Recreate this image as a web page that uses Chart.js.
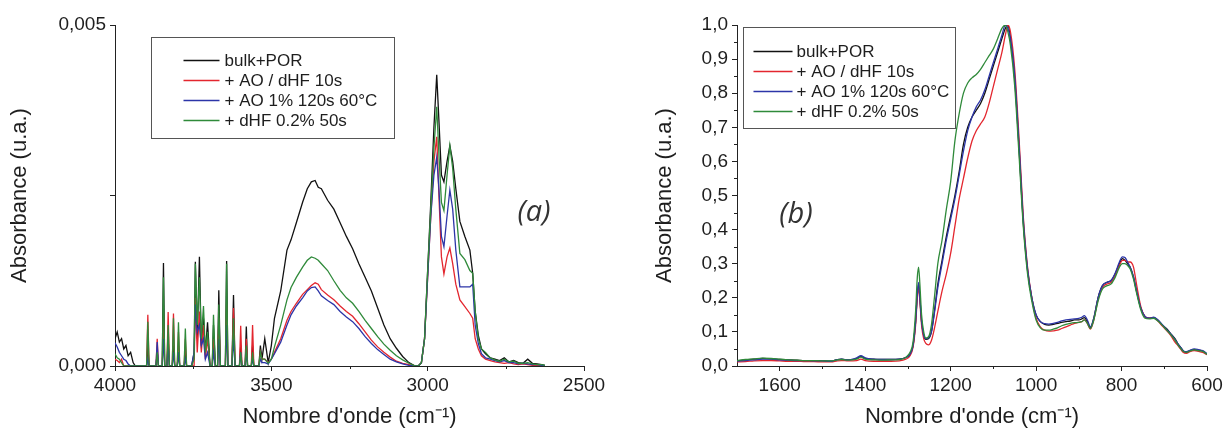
<!DOCTYPE html>
<html>
<head>
<meta charset="utf-8">
<script src="https://cdn.jsdelivr.net/npm/chart.js@4.4.1/dist/chart.umd.min.js"></script>
<style>
html, body { margin: 0; padding: 0; background: #fff; }
#wrap { position: relative; width: 1227px; height: 435px; overflow: hidden; background: #fff; }
.panel { position: absolute; top: 0; }
</style>
</head>
<body>
<div id="wrap">
  <div class="panel" style="left:0px"><canvas id="chartA" width="620" height="435" style="width:620px;height:435px"></canvas></div>
  <div class="panel" style="left:620px"><canvas id="chartB" width="607" height="435" style="width:607px;height:435px"></canvas></div>
</div>
<script>
// ---------------- DATA ----------------
const seriesLabels = ['bulk+POR', '+ AO / dHF 10s', '+ AO 1% 120s 60°C', '+ dHF 0.2% 50s'];

// Panel (a): wavenumber (cm-1)
const wavenumberA = [
  4000, 3993, 3986, 3979, 3972, 3965, 3958, 3950, 3942, 3935, 3925,
  3910, 3899, 3895, 3891, 3869, 3865, 3861, 3849, 3845, 3841, 3834, 3830, 3826, 3817, 3813, 3809,
  3801, 3797, 3793, 3779, 3775, 3771, 3755, 3747, 3743, 3737, 3730, 3724, 3717, 3711, 3704,
  3696, 3689, 3685, 3679, 3672, 3668, 3663, 3650, 3647, 3643, 3639, 3626, 3621, 3616,
  3602, 3598, 3594, 3584, 3580, 3576, 3564, 3560, 3556, 3540, 3535, 3530,
  3521, 3510, 3500, 3490, 3470, 3450, 3437, 3420, 3400, 3385, 3372, 3360, 3350, 3340, 3320,
  3300, 3280, 3260, 3240, 3220, 3200, 3180, 3160, 3140, 3120, 3100, 3080, 3060, 3040,
  3030, 3020, 3010, 3000, 2990, 2980, 2971, 2964, 2956, 2948, 2938, 2929, 2920, 2910, 2897,
  2881, 2865, 2856, 2848, 2838, 2828, 2815, 2800,
  2785, 2770, 2755, 2740, 2725, 2710, 2695, 2680, 2665, 2650, 2635, 2625
];
const bulkA = [
  0.0004, 0.0005, 0.00035, 0.0004, 0.00025, 0.0003, 0.00015, 0.0002, 0.00005, 0, 0,
  0, 0, 0.0003, 0, 0, 0.0002, 0, 0, 0.00151, 0, 0, 0.0004, 0, 0, 0.0003, 0,
  0, 0.0002, 0, 0, 0.0002, 0, 0, 0.0002, 0.00153, 0.0004, 0.0016, 0.0003, 0.0007, 0.0002, 0.00064,
  0, 0, 0.0006, 0, 0, 0.00111, 0, 0, 0, 0.00154, 0, 0, 0.00104, 0,
  0, 0.0003, 0, 0, 0.00058, 0, 0, 0.0003, 0, 0, 0.0003, 0.0001,
  0.0004, 0.00005, 0.0003, 0.0007, 0.0011, 0.0017, 0.00185, 0.0021, 0.0024, 0.0026, 0.0027, 0.00272, 0.00262, 0.0026, 0.00243,
  0.0023, 0.0021, 0.0019, 0.00172, 0.0015, 0.0013, 0.0011, 0.00085, 0.0006, 0.0004, 0.00026, 0.00014, 0.00005, 0,
  0, 0.00005, 0.0004, 0.0014, 0.0024, 0.0035, 0.00427, 0.0036, 0.0028, 0.0027, 0.003, 0.00323, 0.003, 0.0026, 0.00212,
  0.0019, 0.0017, 0.00136, 0.0008, 0.00045, 0.00025, 0.00018, 0.00012,
  0.0001, 0.00008, 0.00012, 0.00006, 0.00008, 0.00005, 0.00004, 0.0001, 0.00004, 0.00003, 0.00002, 0.00001
];
const aoDhfA = [
  0.0001, 0.00008, 0.00005, 0.0001, 0, 0, 0, 0, 0, 0, 0,
  0, 0, 0.00075, 0, 0, 0.0004, 0, 0, 0.0007, 0, 0, 0.00079, 0, 0, 0.00077, 0,
  0, 0.0005, 0, 0, 0.0004, 0, 0, 0, 0.001, 0.0002, 0.0008, 0.0002, 0.0006, 0.0001, 0.0004,
  0, 0, 0.0004, 0, 0, 0.0007, 0, 0, 0, 0.0009, 0, 0, 0.00085, 0,
  0, 0.00059, 0, 0, 0.0004, 0, 0, 0.0006, 0, 0, 0.0002, 0.0001,
  0.0001, 0.00005, 0.0001, 0.0002, 0.0004, 0.00067, 0.0008, 0.00092, 0.00105, 0.00112, 0.00118, 0.00122, 0.0012, 0.00112, 0.00104,
  0.00097, 0.00088, 0.0008, 0.00073, 0.00062, 0.0005, 0.00038, 0.00028, 0.0002, 0.00013, 0.00007, 0.00004, 0.00002, 0,
  0, 0.00005, 0.0004, 0.0013, 0.0022, 0.003, 0.00336, 0.0025, 0.0016, 0.00135, 0.0016, 0.00173, 0.0015, 0.0012, 0.00097,
  0.00087, 0.00077, 0.0007, 0.0004, 0.00025, 0.00015, 0.0001, 0.00008,
  0.00006, 0.00005, 0.00004, 0.00005, 0.00003, 0.00002, 0.00003, 0.00002, 0.00001, 0.00001, 0, 0
];
const ao1pctA = [
  0.00034, 0.00028, 0.0002, 0.00015, 0.0001, 0.00008, 0.00003, 0, 0, 0, 0,
  0, 0, 0.0001, 0, 0, 0.00035, 0, 0, 0.0004, 0, 0, 0.0003, 0, 0, 0.0002, 0,
  0, 0.0002, 0, 0, 0.0001, 0, 0, 0.0002, 0.0009, 0.0005, 0.0006, 0.0003, 0.0004, 0.0001, 0.0002,
  0, 0, 0.0002, 0, 0, 0.0004, 0, 0, 0, 0.0006, 0, 0, 0.0004, 0,
  0, 0.0002, 0, 0, 0.0002, 0, 0, 0.0001, 0, 0, 0.0001, 0.00005,
  0.00005, 0.00003, 0.0001, 0.00018, 0.00035, 0.0006, 0.00075, 0.00088, 0.001, 0.0011, 0.00115, 0.00116, 0.0011, 0.00103, 0.00096,
  0.0009, 0.0008, 0.00072, 0.00065, 0.00055, 0.00043, 0.00033, 0.00024, 0.00017, 0.0001, 0.00006, 0.00003, 0.00001, 0,
  0, 0.00005, 0.0004, 0.0013, 0.0022, 0.0028, 0.00306, 0.0026, 0.0019, 0.00175, 0.0022, 0.00258, 0.0023, 0.0017, 0.00116,
  0.00116, 0.00116, 0.0012, 0.0006, 0.00033, 0.00018, 0.00012, 0.0001,
  0.00008, 0.00006, 0.00008, 0.00005, 0.00005, 0.00003, 0.00004, 0.00003, 0.00002, 0.00002, 0.00001, 0
];
const dhfA = [
  0.00018, 0.00012, 0.0001, 0.00005, 0, 0, 0, 0, 0, 0, 0,
  0, 0, 0.00065, 0, 0, 0.0002, 0, 0, 0.0013, 0, 0, 0.0006, 0, 0, 0.0007, 0,
  0, 0.00064, 0, 0, 0.00055, 0, 0, 0.0001, 0.0015, 0.0006, 0.0013, 0.0004, 0.00088, 0.0002, 0.0005,
  0, 0, 0.00075, 0, 0, 0.0009, 0, 0, 0, 0.0015, 0, 0, 0.0007, 0,
  0, 0.0002, 0, 0, 0.0003, 0, 0, 0.0002, 0, 0, 0.0002, 0.0001,
  0.0001, 0.00004, 0.0001, 0.00028, 0.0006, 0.00097, 0.00115, 0.0013, 0.00145, 0.00155, 0.0016, 0.00158, 0.00155, 0.0015, 0.0014,
  0.00125, 0.00111, 0.001, 0.00092, 0.0008, 0.00067, 0.00055, 0.00043, 0.00032, 0.00023, 0.00015, 0.00009, 0.00004, 0,
  0, 0.00005, 0.0004, 0.0014, 0.0023, 0.0032, 0.0038, 0.0031, 0.0024, 0.00228, 0.0028, 0.00323, 0.0029, 0.0023, 0.00165,
  0.00156, 0.0014, 0.00136, 0.0008, 0.0004, 0.00025, 0.0002, 0.00012,
  0.00009, 0.00007, 0.0001, 0.00006, 0.00007, 0.00004, 0.00004, 0.00005, 0.00003, 0.00002, 0.00002, 0.00001
];

// Panel (b): wavenumber (cm-1)
const wavenumberB = [
  1700, 1680, 1660, 1640, 1620, 1600, 1580, 1560, 1540, 1520, 1500,
  1480, 1465, 1455, 1440, 1420, 1410, 1400, 1380, 1360, 1340, 1320,
  1305, 1295, 1288, 1282, 1278, 1275, 1272, 1268, 1263, 1258, 1252, 1245, 1238, 1230,
  1220, 1210, 1200, 1190, 1180, 1170, 1160, 1150, 1140, 1130, 1120, 1110, 1100, 1090, 1080,
  1072, 1066, 1060,
  1050, 1040, 1030, 1020, 1010, 1000, 990, 980, 970, 960, 950, 940, 930, 920, 910, 900,
  893, 887, 880, 873, 865, 855, 845, 835, 825, 815, 805, 798, 792, 786, 780, 772, 765, 755,
  745, 735, 725, 715, 705, 695, 685, 675, 668, 662, 656, 648, 640, 630, 620, 610, 600
];
const bulkB = [
  0.015, 0.018, 0.02, 0.022, 0.021, 0.019, 0.018, 0.017, 0.016, 0.016, 0.015,
  0.014, 0.019, 0.02, 0.018, 0.022, 0.028, 0.022, 0.02, 0.019, 0.019, 0.02,
  0.025, 0.035, 0.06, 0.13, 0.21, 0.24, 0.2, 0.13, 0.09, 0.078, 0.08, 0.1, 0.16, 0.24,
  0.31, 0.38, 0.44, 0.5, 0.57, 0.65, 0.7, 0.73, 0.75, 0.77, 0.8, 0.84, 0.88, 0.92, 0.96,
  0.99, 1.0, 0.96,
  0.84, 0.64, 0.42, 0.28, 0.2, 0.15, 0.13, 0.122, 0.12, 0.122, 0.125, 0.128, 0.13, 0.132, 0.135, 0.135,
  0.138, 0.142, 0.13, 0.112, 0.14, 0.2, 0.235, 0.245, 0.25, 0.27, 0.3, 0.315, 0.31, 0.3, 0.29, 0.26, 0.22, 0.17,
  0.145, 0.14, 0.142, 0.135, 0.12, 0.11, 0.095, 0.08, 0.065, 0.055, 0.045, 0.04, 0.045, 0.048, 0.046, 0.044, 0.035
];
const aoDhfB = [
  0.012, 0.013, 0.015, 0.016, 0.016, 0.015, 0.014, 0.014, 0.013, 0.013, 0.012,
  0.012, 0.015, 0.016, 0.015, 0.016, 0.02, 0.016, 0.014, 0.014, 0.014, 0.015,
  0.02, 0.03, 0.055, 0.12, 0.2, 0.23, 0.19, 0.12, 0.08, 0.066, 0.062, 0.075, 0.11, 0.16,
  0.22, 0.27, 0.33, 0.41, 0.49, 0.55, 0.61, 0.66, 0.69, 0.71, 0.73, 0.77, 0.82, 0.87, 0.92,
  0.97, 1.0, 0.98,
  0.87, 0.67, 0.44, 0.29, 0.2, 0.14, 0.115, 0.105, 0.102, 0.103, 0.105, 0.11, 0.115, 0.12, 0.125, 0.128,
  0.13, 0.135, 0.125, 0.108, 0.135, 0.195, 0.23, 0.24, 0.245, 0.265, 0.295, 0.31, 0.31, 0.305, 0.305, 0.29, 0.24, 0.175,
  0.145, 0.14, 0.142, 0.132, 0.118, 0.105, 0.09, 0.07, 0.06, 0.05, 0.04, 0.037, 0.042, 0.045, 0.043, 0.04, 0.033
];
const ao1pctB = [
  0.014, 0.016, 0.018, 0.02, 0.02, 0.018, 0.017, 0.016, 0.016, 0.015, 0.015,
  0.014, 0.019, 0.02, 0.018, 0.024, 0.03, 0.024, 0.02, 0.019, 0.019, 0.02,
  0.025, 0.035, 0.06, 0.13, 0.21, 0.245, 0.2, 0.13, 0.09, 0.08, 0.082, 0.1, 0.155, 0.23,
  0.3, 0.37, 0.43, 0.49, 0.56, 0.63, 0.69, 0.73, 0.76, 0.78, 0.81, 0.85, 0.89, 0.93, 0.97,
  1.0, 0.99, 0.96,
  0.85, 0.65, 0.43, 0.285, 0.2, 0.15, 0.13, 0.124, 0.123, 0.125, 0.128, 0.132, 0.135, 0.137, 0.138, 0.14,
  0.143, 0.148, 0.135, 0.115, 0.14, 0.2, 0.235, 0.245, 0.25, 0.272, 0.305, 0.32, 0.318, 0.305, 0.29, 0.262, 0.222, 0.17,
  0.145, 0.14, 0.143, 0.135, 0.122, 0.108, 0.094, 0.078, 0.065, 0.055, 0.045, 0.042, 0.046, 0.05, 0.048, 0.045, 0.036
];
const dhfB = [
  0.016, 0.019, 0.021, 0.023, 0.022, 0.02, 0.018, 0.017, 0.016, 0.016, 0.015,
  0.015, 0.018, 0.019, 0.017, 0.02, 0.026, 0.02, 0.018, 0.017, 0.018, 0.019,
  0.025, 0.04, 0.07, 0.16, 0.26, 0.29, 0.24, 0.15, 0.1, 0.082, 0.085, 0.12, 0.2, 0.3,
  0.37, 0.46, 0.54, 0.66, 0.74, 0.8, 0.83, 0.845, 0.855, 0.87, 0.89, 0.91, 0.93, 0.96, 0.99,
  1.0, 0.98, 0.94,
  0.82, 0.62, 0.41, 0.27, 0.19, 0.135, 0.112, 0.105, 0.105, 0.108, 0.112, 0.118, 0.122, 0.125, 0.127, 0.128,
  0.13, 0.135, 0.125, 0.11, 0.135, 0.19, 0.225, 0.235, 0.24, 0.26, 0.29, 0.3, 0.3, 0.295, 0.285, 0.255, 0.215, 0.165,
  0.14, 0.138, 0.14, 0.132, 0.12, 0.106, 0.092, 0.076, 0.062, 0.052, 0.043, 0.04, 0.044, 0.047, 0.045, 0.043, 0.034
];

// Tick positions
const minorTicksAX = [3750, 3250, 2750];
const minorTicksBX = [1500, 1300, 1100, 900, 700];
const minorTicksBY = [0.05, 0.15, 0.25, 0.35, 0.45, 0.55, 0.65, 0.75, 0.85, 0.95];

// ---------------- STYLE ----------------
const COLORS = ['#111111', '#e3262e', '#2c35a8', '#2f8a3a'];
const AXIS = '#222222';
const TEXT = '#1e1e1e';
const FONT = '"Liberation Sans", Arial, Helvetica, sans-serif';

Chart.defaults.font.family = FONT;
Chart.defaults.color = TEXT;

const minorTickPlugin = {
  id: 'minorTicks',
  afterDraw(chart, args, o) {
    const { ctx, chartArea: ca, scales } = chart;
    ctx.save();
    ctx.strokeStyle = o.color; ctx.lineWidth = 1;
    ctx.beginPath();
    (o.x || []).forEach(v => {
      const px = Math.round(scales.x.getPixelForValue(v)) + 0.5;
      ctx.moveTo(px, ca.bottom); ctx.lineTo(px, ca.bottom + o.length);
    });
    (o.y || []).forEach(v => {
      const py = Math.round(scales.y.getPixelForValue(v)) + 0.5;
      ctx.moveTo(ca.left, py); ctx.lineTo(ca.left - o.length, py);
    });
    ctx.stroke();
    ctx.restore();
  }
};

const boxLegendPlugin = {
  id: 'boxLegend',
  afterDraw(chart, args, o) {
    const { ctx, chartArea: ca } = chart;
    const x0 = Math.round(ca.left + o.left) + 0.5;
    const y0 = Math.round(ca.top + o.top) + 0.5;
    ctx.save();
    ctx.strokeStyle = o.borderColor; ctx.lineWidth = 1;
    ctx.strokeRect(x0, y0, o.width, o.height);
    ctx.font = o.font; ctx.textBaseline = 'middle'; ctx.textAlign = 'left';
    chart.data.datasets.forEach((ds, i) => {
      const y = Math.round(y0 + o.firstRow + i * o.rowGap) + 0.5;
      ctx.strokeStyle = ds.borderColor; ctx.lineWidth = 1.3;
      ctx.beginPath(); ctx.moveTo(x0 + o.lineStart, y); ctx.lineTo(x0 + o.lineEnd, y); ctx.stroke();
      ctx.fillStyle = o.color;
      ctx.fillText(ds.label, x0 + o.textStart, y + 1);
    });
    ctx.restore();
  }
};

const panelLabelPlugin = {
  id: 'panelLabel',
  afterDraw(chart, args, o) {
    const { ctx, chartArea: ca } = chart;
    ctx.save();
    ctx.font = o.font; ctx.fillStyle = o.color;
    ctx.textAlign = 'center'; ctx.textBaseline = 'middle';
    ctx.fillText(o.text, ca.left + o.dx, ca.top + o.dy);
    ctx.restore();
  }
};

function makeDatasets(xs, seriesList, smooth) {
  return seriesList.map((ys, i) => ({
    label: seriesLabels[i],
    data: xs.map((x, k) => ({ x: x, y: ys[k] })),
    borderColor: COLORS[i],
    backgroundColor: COLORS[i],
    borderWidth: 1.3,
    pointRadius: 0,
    fill: false,
    tension: 0,
    cubicInterpolationMode: smooth ? 'monotone' : 'default',
    order: 3 - i
  }));
}

function axisX(min, max, step, fixedHeight) {
  return {
    type: 'linear', reverse: true, min: min, max: max,
    border: { display: true, color: AXIS, width: 1 },
    grid: { display: true, drawOnChartArea: false, drawTicks: true, tickLength: 5, tickColor: AXIS, tickWidth: 1 },
    ticks: { stepSize: step, includeBounds: false, font: { size: 19 }, color: TEXT, padding: 3, maxRotation: 0, autoSkip: false,
             callback: v => String(v) },
    title: { display: true, text: "Nombre d'onde (cm⁻¹)", font: { size: 22 }, color: TEXT, padding: { top: 0, bottom: 5 } },
    afterFit: s => { s.height = fixedHeight; }
  };
}

const commonPlugins = (legendOpts, labelOpts, minorOpts) => ({
  legend: { display: false },
  tooltip: { enabled: false },
  boxLegend: legendOpts,
  panelLabel: labelOpts,
  minorTicks: minorOpts
});

// ---------------- CHART A ----------------
new Chart(document.getElementById('chartA'), {
  type: 'line',
  data: { datasets: makeDatasets(wavenumberA, [bulkA, aoDhfA, ao1pctA, dhfA], false) },
  plugins: [minorTickPlugin, boxLegendPlugin, panelLabelPlugin],
  options: {
    responsive: false, animation: false, devicePixelRatio: 1,
    layout: { padding: { left: 0, top: 25, right: 36, bottom: 0 } },
    scales: {
      x: axisX(2500, 4000, 500, 69),
      y: {
        type: 'linear', min: 0, max: 0.005,
        border: { display: true, color: AXIS, width: 1 },
        grid: { display: true, drawOnChartArea: false, drawTicks: true, tickLength: 5, tickColor: AXIS, tickWidth: 1 },
        ticks: { stepSize: 0.0025, font: { size: 19 }, color: TEXT, padding: 4,
                 callback: v => Math.abs(v - 0.0025) < 1e-9 ? '' : v.toFixed(3).replace('.', ',') },
        title: { display: true, text: 'Absorbance (u.a.)', font: { size: 22 }, color: TEXT, padding: { top: 7, bottom: 0 } },
        afterFit: s => { s.width = 115; }
      }
    },
    plugins: commonPlugins(
      { left: 36, top: 12, width: 243, height: 101, firstRow: 22, rowGap: 20,
        lineStart: 32, lineEnd: 68, textStart: 73, font: '17px ' + FONT, color: TEXT, borderColor: '#555' },
      { text: '(a)', dx: 419, dy: 188, font: 'italic 29px "Open Sans", "Noto Sans", sans-serif', color: '#333' },
      { x: minorTicksAX, y: [], length: 3, color: AXIS }
    )
  }
});

// ---------------- CHART B ----------------
new Chart(document.getElementById('chartB'), {
  type: 'line',
  data: { datasets: makeDatasets(wavenumberB, [bulkB, aoDhfB, ao1pctB, dhfB], true) },
  plugins: [minorTickPlugin, boxLegendPlugin, panelLabelPlugin],
  options: {
    responsive: false, animation: false, devicePixelRatio: 1,
    layout: { padding: { left: 0, top: 25, right: 20, bottom: 0 } },
    scales: {
      x: axisX(600, 1700, 200, 69),
      y: {
        type: 'linear', min: 0, max: 1,
        border: { display: true, color: AXIS, width: 1 },
        grid: { display: true, drawOnChartArea: false, drawTicks: true, tickLength: 5, tickColor: AXIS, tickWidth: 1 },
        ticks: { stepSize: 0.1, font: { size: 19 }, color: TEXT, padding: 4,
                 callback: v => v.toFixed(1).replace('.', ',') },
        title: { display: true, text: 'Absorbance (u.a.)', font: { size: 22 }, color: TEXT, padding: { top: 32, bottom: 0 } },
        afterFit: s => { s.width = 117; }
      }
    },
    plugins: commonPlugins(
      { left: 6, top: 2, width: 212, height: 101, firstRow: 23, rowGap: 20,
        lineStart: 10, lineEnd: 49, textStart: 53, font: '17px ' + FONT, color: TEXT, borderColor: '#555' },
      { text: '(b)', dx: 59, dy: 190, font: 'italic 29px "Open Sans", "Noto Sans", sans-serif', color: '#333' },
      { x: minorTicksBX, y: minorTicksBY, length: 3, color: AXIS }
    )
  }
});
</script>
</body>
</html>
